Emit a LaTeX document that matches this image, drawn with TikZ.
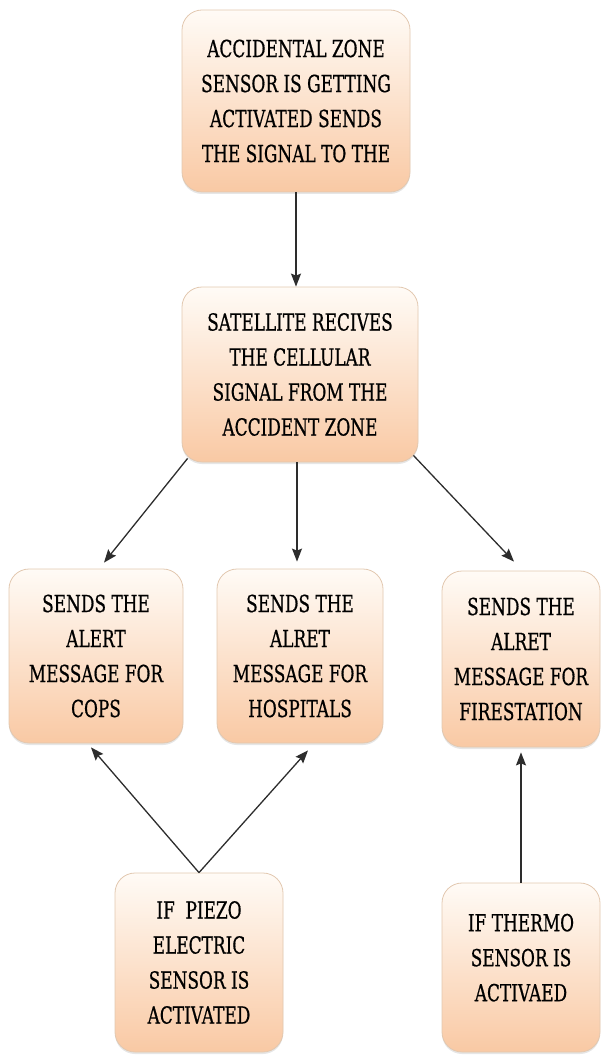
\documentclass[tikz,border=0pt]{standalone}
\usepackage{fontspec}
\newfontfamily\boxfont[FakeStretch=0.72,FakeBold=0.6]{DejaVu Serif}
\usetikzlibrary{arrows.meta,calc,shadows}
\definecolor{peachtop}{RGB}{255,251,246}
\definecolor{peachbot}{RGB}{249,201,164}
\definecolor{peachline}{RGB}{226,200,176}
\definecolor{arrowgray}{RGB}{45,45,45}
\tikzset{
  flowbox/.style={rectangle, rounded corners=20pt, draw=peachline, line width=0.8pt,
    top color=peachtop, bottom color=peachbot, align=center, inner sep=0pt,
    font=\boxfont\fontsize{23.5}{35}\selectfont, text=black,
    drop shadow={shadow xshift=0pt, shadow yshift=-2pt, opacity=0.2}},
  flowarrow/.style={draw=arrowgray, line width=1.3pt,
    -{Stealth[length=13pt,width=10pt,inset=2pt]}}
}
\begin{document}
\begin{tikzpicture}[x=1pt,y=-1pt]
\useasboundingbox (0,0) rectangle (606,1059);
\node[flowbox, minimum width=228pt, minimum height=182pt] (b1) at (296,101)
  {ACCIDENTAL ZONE\\SENSOR IS GETTING\\ACTIVATED SENDS\\THE SIGNAL TO THE};
\node[flowbox, minimum width=236pt, minimum height=175pt] (b2) at (300,374.5)
  {SATELLITE RECIVES\\THE CELLULAR\\SIGNAL FROM THE\\ACCIDENT ZONE};
\node[flowbox, minimum width=174pt, minimum height=174pt] (cops) at (96,656)
  {SENDS THE\\ALERT\\MESSAGE FOR\\COPS};
\node[flowbox, minimum width=166pt, minimum height=174pt] (hosp) at (300,656)
  {SENDS THE\\ALRET\\MESSAGE FOR\\HOSPITALS};
\node[flowbox, minimum width=158pt, minimum height=176pt] (fire) at (521,659)
  {SENDS THE\\ALRET\\MESSAGE FOR\\FIRESTATION};
\node[flowbox, minimum width=168pt, minimum height=179pt] (piezo) at (199,962.5)
  {IF~~PIEZO\\ELECTRIC\\SENSOR IS\\ACTIVATED};
\node[flowbox, minimum width=158pt, minimum height=169pt] (thermo) at (521,967.5)
  {IF THERMO\\SENSOR IS\\ACTIVAED\\[-15pt]};

\draw[flowarrow] (b1.south) -- (b1.south |- b2.north);
\draw[flowarrow] ($(b2.south west)+(6,-4)$) -- ($(cops.north)+(8,-6)$);
\draw[flowarrow] ($(b2.south)+(-3,0)$) -- ($(hosp.north)+(-3,-7)$);
\draw[flowarrow] ($(b2.south east)+(-5,-7)$) -- ($(fire.north)+(-7,-9)$);
\draw[flowarrow] (piezo.north) -- ($(cops.south)+(-5,4)$);
\draw[flowarrow] (piezo.north) -- ($(hosp.south)+(8,7)$);
\draw[flowarrow] (thermo.north) -- ($(fire.south)+(0,5)$);
\end{tikzpicture}
\end{document}
